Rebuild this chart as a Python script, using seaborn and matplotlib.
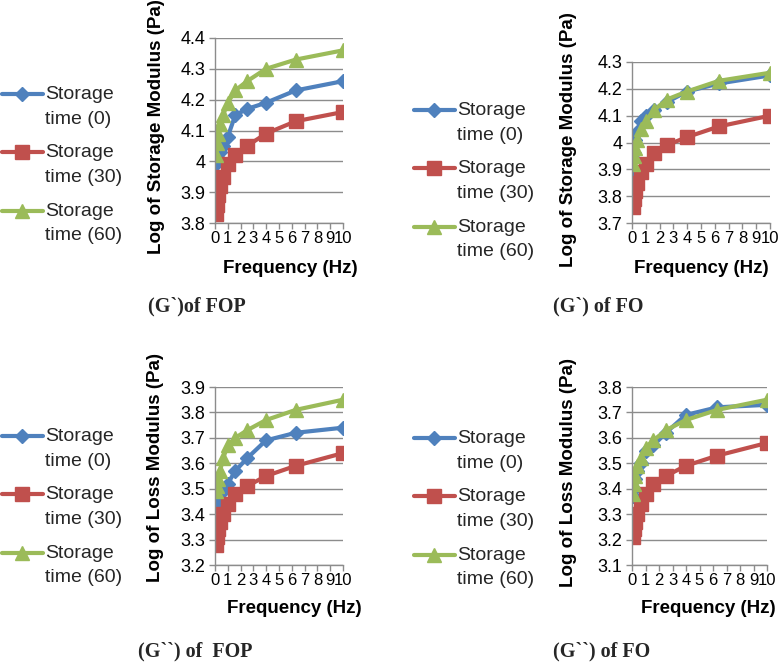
import numpy as np
import pandas as pd
import matplotlib
matplotlib.use("Agg")
import matplotlib.pyplot as plt
import seaborn as sns
from matplotlib.ticker import FuncFormatter, FixedLocator

# ---------------- data ----------------
freq = [0.1, 0.158, 0.251, 0.398, 0.631, 1.0, 1.585, 2.512, 3.981, 6.31, 10.0]
series_labels = ["Storage\ntime (0)", "Storage\ntime (30)", "Storage\ntime (60)"]
x_ticks = [0, 1, 2, 3, 4, 5, 6, 7, 8, 9, 10]

fop_storage_t0 = [3.99, 4.00, 4.01, 4.03, 4.05, 4.08, 4.15, 4.17, 4.19, 4.23, 4.26]
fop_storage_t30 = [3.83, 3.86, 3.89, 3.92, 3.95, 3.99, 4.02, 4.05, 4.09, 4.13, 4.16]
fop_storage_t60 = [4.02, 4.06, 4.09, 4.12, 4.15, 4.19, 4.23, 4.26, 4.30, 4.33, 4.36]

fo_storage_t0 = [3.88, 3.96, 4.01, 4.04, 4.08, 4.10, 4.12, 4.15, 4.19, 4.22, 4.25]
fo_storage_t30 = [3.76, 3.79, 3.82, 3.85, 3.89, 3.92, 3.96, 3.99, 4.02, 4.06, 4.10]
fo_storage_t60 = [3.92, 3.95, 3.98, 4.01, 4.05, 4.08, 4.12, 4.16, 4.19, 4.23, 4.26]

fop_loss_t0 = [3.38, 3.41, 3.43, 3.46, 3.49, 3.52, 3.57, 3.62, 3.69, 3.72, 3.74]
fop_loss_t30 = [3.28, 3.31, 3.34, 3.37, 3.40, 3.44, 3.48, 3.51, 3.55, 3.59, 3.64]
fop_loss_t60 = [3.49, 3.51, 3.54, 3.57, 3.62, 3.67, 3.70, 3.73, 3.77, 3.81, 3.85]

fo_loss_t0 = [3.37, 3.40, 3.44, 3.47, 3.50, 3.55, 3.57, 3.62, 3.69, 3.72, 3.73]
fo_loss_t30 = [3.21, 3.24, 3.27, 3.30, 3.34, 3.38, 3.42, 3.45, 3.49, 3.53, 3.58]
fo_loss_t60 = [3.38, 3.42, 3.45, 3.49, 3.52, 3.56, 3.59, 3.63, 3.67, 3.71, 3.75]

y_labels = ["Log of Storage Modulus (Pa)", "Log of Storage Modulus (Pa)",
            "Log of Loss Modulus (Pa)", "Log of Loss Modulus (Pa)"]
x_label = "Frequency (Hz)"
captions = ["(G`)of FOP", "(G`) of FO", "(G``) of  FOP", "(G``) of FO"]
y_ranges = [(3.8, 4.4), (3.7, 4.3), (3.2, 3.9), (3.1, 3.8)]

panel_data = [
    [fop_storage_t0, fop_storage_t30, fop_storage_t60],
    [fo_storage_t0, fo_storage_t30, fo_storage_t60],
    [fop_loss_t0, fop_loss_t30, fop_loss_t60],
    [fo_loss_t0, fo_loss_t30, fo_loss_t60],
]

# ---------------- style ----------------
sns.set_theme(style="white")
plt.rcParams["font.family"] = ["Liberation Sans", "DejaVu Sans"]

W, H = 782, 662
fig = plt.figure(figsize=(W / 100, H / 100), dpi=100)
fig.patch.set_facecolor("white")

colors = ["#4F81BD", "#C0504D", "#9BBB59"]
markers = ["D", "s", "^"]
msizes = [7, 9.5, 10]
grid_col = "#8C8C8C"

# pixel boxes: left, right, top, bottom
boxes = [(215, 343, 38, 223), (632, 770, 62, 223),
         (215, 343, 387, 565), (632, 767, 387, 565)]
ylabel_pos = [(-0.39, 0.52), (-0.40, 0.52), (-0.40, 0.55), (-0.41, 0.52)]
xlabel_pos = [(0.586, -0.20), (0.50, -0.23), (0.617, -0.197), (0.563, -0.197)]
legend_pos = [(2, 86), (414, 102), (2, 428), (414, 430)]
caption_pos = [(148, 311), (553, 311), (138, 656), (553, 656)]


def fmt(v, _):
    return "%g" % round(v, 2)


for i, (l, r, t, b) in enumerate(boxes):
    ax = fig.add_axes([l / W, 1 - b / H, (r - l) / W, (b - t) / H])
    for vals, c, m, ms in zip(panel_data[i], colors, markers, msizes):
        df = pd.DataFrame({"Frequency": freq, "Value": vals})
        sns.lineplot(data=df, x="Frequency", y="Value", ax=ax, color=c,
                     marker=m, markersize=ms, markeredgecolor=c,
                     markeredgewidth=1, linewidth=3, legend=False)
    lo, hi = y_ranges[i]
    ax.set_xlim(0, 10)
    ax.set_ylim(lo, hi)
    ax.xaxis.set_major_locator(FixedLocator(x_ticks))
    ax.yaxis.set_major_locator(FixedLocator(np.round(np.arange(lo, hi + 0.05, 0.1), 1)))
    ax.yaxis.set_major_formatter(FuncFormatter(fmt))
    ax.xaxis.set_major_formatter(FuncFormatter(fmt))
    ax.set_axisbelow(True)
    ax.yaxis.grid(True, color=grid_col, linewidth=1)
    ax.xaxis.grid(False)
    for s in ["top", "right"]:
        ax.spines[s].set_visible(False)
    for s in ["left", "bottom"]:
        ax.spines[s].set_color(grid_col)
        ax.spines[s].set_linewidth(1)
    ax.tick_params(axis="both", which="major", bottom=True, left=True,
                   direction="out", length=4, width=1, color=grid_col,
                   labelcolor="black")
    ax.tick_params(axis="x", pad=1.5, labelsize=12)
    ax.tick_params(axis="y", pad=3, labelsize=13)
    ax.set_xlabel(x_label, fontsize=13.5, fontweight="bold", color="black")
    ax.set_ylabel(y_labels[i], fontsize=13.5, fontweight="bold", color="black")
    ax.yaxis.set_label_coords(*ylabel_pos[i])
    ax.xaxis.set_label_coords(*xlabel_pos[i])

    lx, ly = legend_pos[i]
    leg = ax.legend(handles=ax.lines[:3], labels=series_labels, loc="upper left",
                    bbox_to_anchor=(lx / W, 1 - ly / H), bbox_transform=fig.transFigure,
                    frameon=False, fontsize=14, handlelength=2.1, handleheight=1.15,
                    handletextpad=0.1, labelspacing=0.85, borderpad=0, borderaxespad=0)
    for vp in leg._legend_handle_box.get_children():
        for hp in vp.get_children():
            hp.align = "top"
    for txt in leg.get_texts():
        txt.set_linespacing(1.6)

    cx, cy = caption_pos[i]
    fig.text(cx / W, 1 - cy / H, captions[i], fontsize=14.5, fontweight="bold",
             family=["Liberation Serif", "DejaVu Serif"], va="baseline", ha="left")

fig.savefig("out.png", dpi=100, facecolor="white")
